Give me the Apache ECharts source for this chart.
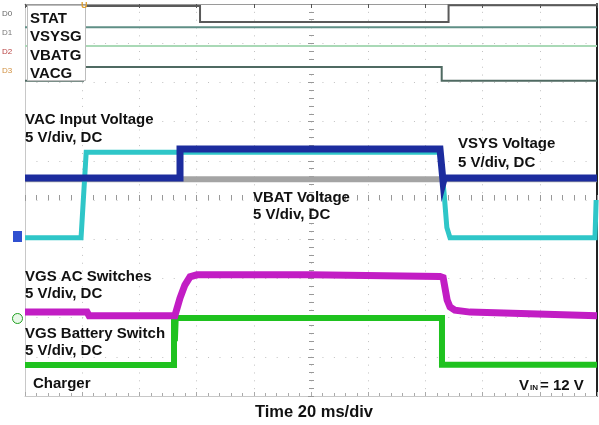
<!DOCTYPE html>
<html><head><meta charset="utf-8">
<script src="https://cdn.jsdelivr.net/npm/echarts@6/dist/echarts.min.js"></script>
<style>html,body{margin:0;padding:0;background:#fff}#c{width:599px;height:425px}</style>
</head><body><div id="c"></div>
<script>
// time in ms (20 ms/div, 10 div), level in scope divisions (0 = bottom, 10 = top)
const timeTicks = [0,20,40,60,80,100,120,140,160,180,200];
const STAT   = [[0,9.95],[61.2,9.95],[61.2,9.54],[148.1,9.54],[148.1,9.97],[200,9.97]];
const VSYSG  = [[0,9.41],[200,9.41]];
const VBATG  = [[0,8.93],[200,8.93]];
const VACG   = [[0,8.04],[20.3,8.04],[20.3,8.39],[145.7,8.39],[145.7,8.04],[200,8.04]];
const VAC    = [[0,4.04],[19.6,4.04],[21.4,6.22],[145.1,6.22],[146.5,5.2],[147.5,4.3],[148.6,4.04],[199.3,4.04],[199.7,5.0]];
const VBAT   = [[0,5.53],[200,5.53]];
const VSYS   = [[0,5.56],[54.2,5.56],[54.2,6.30],[145.1,6.30],[146.2,5.45],[146.6,5.56],[200,5.56]];
const VGS_AC = [[0,2.14],[21.7,2.14],[22.4,2.05],[52.4,2.05],[54.2,2.5],[55.9,2.83],[57.7,3.04],[60.1,3.09],[100,3.09],[145.1,3.05],[146.2,3.02],[147.6,2.45],[148.6,2.27],[150.3,2.19],[155.6,2.14],[200,2.05]];
const VGS_BAT= [[0,0.79],[52.1,0.79],[52.1,1.99],[52.4,1.40],[52.7,1.99],[145.8,1.99],[145.8,0.80],[200,0.80]];

const FONT = 'bold 15px "Liberation Sans", Arial, sans-serif';
function lbl(t, x, capTop, font, color){
  return {type:'text', left:x, top:capTop-2, z:100,
    style:{text:t, font:font||FONT, fill:color||'#111'}};
}
const chart = echarts.init(document.getElementById('c'), null, {renderer:'canvas'});
const hidden = {show:false};
function line(name, data, color, width, z){
  return {name, type:'line', data, showSymbol:false, symbol:'none', z:z||2,
    lineStyle:{color, width, cap:'butt', join:'miter'}, animation:false};
}
chart.setOption({
  animation:false,
  backgroundColor:'#fff',
  grid:{left:25, top:4, right:2, bottom:29},
  xAxis:[
    {type:'value', min:0, max:200, interval:20, position:'bottom',
     axisLine:{show:true, onZero:false, lineStyle:{color:'#c8c8c8'}}, axisLabel:hidden,
     axisTick:{show:true, inside:true, length:4, lineStyle:{color:'#aaa'}},
     minorTick:{show:true, splitNumber:5, length:3, lineStyle:{color:'#aaa'}},
     splitLine:{show:true, lineStyle:{color:'#c0c0c0', type:[1,6.84], width:1}}},
    {type:'value', min:0, max:200, interval:20, position:'bottom', offset:-201,
     axisLine:{show:false, onZero:false}, axisLabel:hidden, splitLine:hidden,
     axisTick:{show:true, length:6, lineStyle:{color:'#999'}},
     minorTick:{show:true, splitNumber:5, length:5, lineStyle:{color:'#999'}}},
    {type:'value', min:0, max:200, interval:20, position:'top',
     axisLine:{show:true, onZero:false, lineStyle:{color:'#9a9a9a', width:1}}, axisLabel:hidden, splitLine:hidden,
     axisTick:{show:true, inside:true, length:4, lineStyle:{color:'#555'}},
     minorTick:{show:false}}
  ],
  yAxis:[
    {type:'value', min:0, max:10, interval:1, position:'left',
     axisLine:{show:true, onZero:false, lineStyle:{color:'#c8c8c8'}}, axisLabel:hidden, axisTick:hidden,
     splitLine:{show:true, lineStyle:{color:'#c0c0c0', type:[1,10.44], width:1}}},
    {type:'value', min:0, max:10, interval:1, position:'left', offset:-289,
     axisLine:{show:false, onZero:false}, axisLabel:hidden, splitLine:hidden,
     axisTick:{show:true, length:6, lineStyle:{color:'#999'}},
     minorTick:{show:true, splitNumber:5, length:5, lineStyle:{color:'#999'}}},
    {type:'value', min:0, max:10, interval:1, position:'right',
     axisLine:{show:true, onZero:false, lineStyle:{color:'#222', width:2}}, axisLabel:hidden, axisTick:hidden, splitLine:hidden}
  ],
  series:[
    line('STAT', STAT, '#5a5a5a', 2),
    line('VSYSG', VSYSG, '#5f8f86', 2),
    line('VBATG', VBATG, '#a9d9b6', 2),
    line('VACG', VACG, '#4f6a62', 2),
    line('VBAT', VBAT, '#a4a4a4', 6, 3),
    line('VAC', VAC, '#2fc6c8', 5, 4),
    line('VSYS', VSYS, '#1c2c9e', 7, 5),
    line('VGS Battery', VGS_BAT, '#1fc21f', 6, 6),
    line('VGS AC', VGS_AC, '#c21dc4', 7, 7)
  ],
  graphic:[
    {type:'rect', left:27, top:5, z:90, shape:{width:58, height:75},
     style:{fill:'#fff', stroke:'#bdbdbd', lineWidth:1}},
    lbl('STAT', 30, 13), lbl('VSYSG', 30, 31), lbl('VBATG', 30, 50), lbl('VACG', 30, 68),
    lbl('VAC Input Voltage', 25, 114), lbl('5 V/div, DC', 25, 132),
    lbl('VSYS Voltage', 458, 138), lbl('5 V/div, DC', 458, 157),
    lbl('VBAT Voltage', 253, 192), lbl('5 V/div, DC', 253, 209),
    lbl('VGS AC Switches', 25, 271), lbl('5 V/div, DC', 25, 288),
    lbl('VGS Battery Switch', 25, 328), lbl('5 V/div, DC', 25, 345),
    lbl('Charger', 33, 378),
    lbl('V', 519, 380),
    lbl('IN', 530, 386, 'bold 8px "Liberation Sans", Arial, sans-serif'),
    lbl('= 12 V', 540, 380),
    lbl('Time 20 ms/div', 255, 406, 'bold 16.5px "Liberation Sans", Arial, sans-serif'),
    lbl('U', 81, 3, 'bold 9px "Liberation Sans", Arial, sans-serif', '#e0a030'),
    lbl('D0', 2, 12, '8px "Liberation Sans", Arial, sans-serif', '#666'),
    lbl('D1', 2, 31, '8px "Liberation Sans", Arial, sans-serif', '#777'),
    lbl('D2', 2, 50, '8px "Liberation Sans", Arial, sans-serif', '#b84040'),
    lbl('D3', 2, 69, '8px "Liberation Sans", Arial, sans-serif', '#d09040'),
    {type:'rect', left:13, top:231, z:100, shape:{width:9, height:11}, style:{fill:'#3050d0'}},
    {type:'circle', left:12, top:313, z:100, shape:{r:5}, style:{fill:'#e8f8e8', stroke:'#20a020', lineWidth:1}}
  ]
});
</script></body></html>
